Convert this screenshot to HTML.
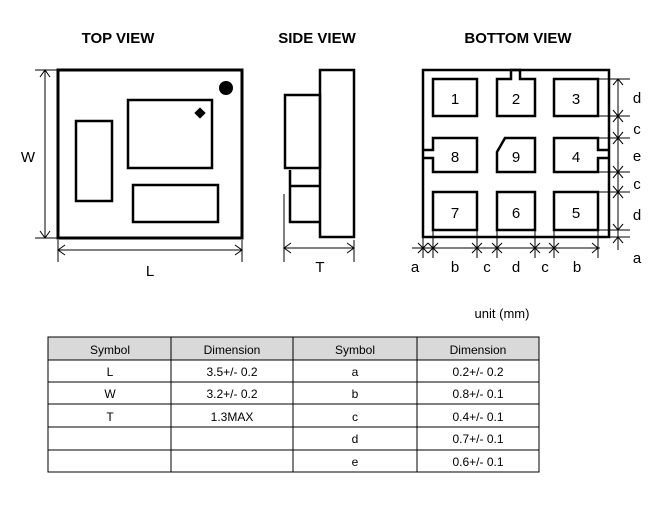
<!DOCTYPE html>
<html><head><style>body{margin:0;background:#fff}svg{display:block}</style></head><body>
<svg width="664" height="517" viewBox="0 0 664 517" xmlns="http://www.w3.org/2000/svg" font-family="Liberation Sans, sans-serif">
<g font-weight="bold" font-size="15" text-anchor="middle">
<text x="118" y="43">TOP VIEW</text><text x="317" y="43">SIDE VIEW</text><text x="518" y="43">BOTTOM VIEW</text>
</g>
<g fill="none" stroke="#000">
<rect x="58" y="70" width="184" height="168" stroke-width="3"/>
<rect x="128" y="100" width="84" height="68" stroke-width="2.5"/>
<rect x="76" y="121" width="36" height="80" stroke-width="2.5"/>
<rect x="133" y="185" width="85" height="37" stroke-width="2.5"/>
<g stroke-width="1">
<line x1="45" y1="70" x2="45" y2="238"/><line x1="35" y1="70" x2="58" y2="70"/><line x1="35" y1="238" x2="58" y2="238"/>
<polyline points="40,77 45,70 50,77"/><polyline points="40,231 45,238 50,231"/>
<line x1="58" y1="250" x2="242" y2="250"/><line x1="58" y1="240" x2="58" y2="262"/><line x1="242" y1="240" x2="242" y2="262"/>
<polyline points="65,245 58,250 65,255"/><polyline points="235,245 242,250 235,255"/>
</g>
<rect x="320" y="70" width="34" height="167" stroke-width="2.5"/>
<rect x="285" y="95" width="35" height="73" stroke-width="2.5"/>
<polyline points="290,170 290,222 320,222" stroke-width="2.5"/>
<line x1="290" y1="186" x2="320" y2="186" stroke-width="2.5"/>
<g stroke-width="1">
<line x1="284" y1="194" x2="284" y2="262"/><line x1="354" y1="240" x2="354" y2="262"/>
<line x1="284" y1="248" x2="354" y2="248"/>
<polyline points="291,243 284,248 291,253"/><polyline points="347,243 354,248 347,253"/>
</g>
<rect x="423" y="70" width="186" height="167" stroke-width="2.5"/>
<g stroke-width="2.5">
<rect x="433" y="79" width="44" height="37"/>
<path d="M497 79 H511 V70 H520 V79 H535 V116 H497 Z"/>
<rect x="554" y="79" width="44" height="37"/>
<path d="M423 150 H433 V138 H477 V172 H433 V158 H423"/>
<path d="M505 138 H535 V172 H497 V152 Z"/>
<path d="M609 150 H598 V138 H554 V172 H598 V158 H609"/>
<rect x="433" y="192" width="44" height="38"/>
<rect x="497" y="192" width="38" height="38"/>
<rect x="554" y="192" width="44" height="38"/>
</g>
<g stroke-width="1">
<line x1="618" y1="79" x2="618" y2="250"/>
<line x1="598" y1="79" x2="630" y2="79"/><line x1="598" y1="116" x2="630" y2="116"/>
<line x1="598" y1="138" x2="630" y2="138"/><line x1="598" y1="172" x2="630" y2="172"/>
<line x1="598" y1="192" x2="630" y2="192"/><line x1="598" y1="230" x2="630" y2="230"/>
<line x1="609" y1="237" x2="630" y2="237"/>
<line x1="412" y1="248" x2="600" y2="248"/>
<line x1="423" y1="237" x2="423" y2="258"/><line x1="433" y1="230" x2="433" y2="258"/>
<line x1="477" y1="230" x2="477" y2="258"/><line x1="497" y1="230" x2="497" y2="258"/>
<line x1="535" y1="230" x2="535" y2="258"/><line x1="554" y1="230" x2="554" y2="258"/>
<line x1="598" y1="230" x2="598" y2="258"/>
<path d="M418 243 L428 253 M418 253 L428 243 M428 243 L438 253 M428 253 L438 243 M472 243 L482 253 M472 253 L482 243 M492 243 L502 253 M492 253 L502 243 M530 243 L540 253 M530 253 L540 243 M549 243 L559 253 M549 253 L559 243"/>
<polyline points="592,243 598,248 592,253"/>
<path d="M613 85 L618 79 L623 85 M613 110 L623 122 M613 122 L623 110 M613 132 L623 144 M613 144 L623 132 M613 166 L623 178 M613 178 L623 166 M613 186 L623 198 M613 198 L623 186 M613 224 L618 230 L623 224 M613 243 L618 237 L623 243"/>
</g>
</g>
<circle cx="226" cy="88" r="7"/>
<rect x="196" y="109" width="8" height="8" transform="rotate(45 200 113)"/>
<g font-size="15" text-anchor="middle">
<text x="28" y="162">W</text><text x="150" y="276">L</text><text x="320" y="272">T</text>
<text x="455" y="104">1</text><text x="516" y="104">2</text><text x="576" y="104">3</text>
<text x="455" y="162">8</text><text x="516" y="162">9</text><text x="576" y="162">4</text>
<text x="455" y="218">7</text><text x="516" y="218">6</text><text x="576" y="218">5</text>
<text x="637" y="103">d</text><text x="637" y="134">c</text><text x="637" y="161">e</text>
<text x="637" y="189">c</text><text x="637" y="220">d</text><text x="637" y="263">a</text>
<text x="415" y="272">a</text><text x="455" y="272">b</text><text x="487" y="272">c</text>
<text x="516" y="272">d</text><text x="545" y="272">c</text><text x="577" y="272">b</text>
</g>
<text x="502" y="318" font-size="13" text-anchor="middle">unit (mm)</text>
<rect x="48" y="337" width="491" height="23" fill="#d9d9d9"/>
<g stroke="#000" stroke-width="1" fill="none">
<rect x="48" y="337" width="491" height="135"/>
<line x1="48" y1="360" x2="539" y2="360"/><line x1="48" y1="382" x2="539" y2="382"/>
<line x1="48" y1="404" x2="539" y2="404"/><line x1="48" y1="427" x2="539" y2="427"/>
<line x1="48" y1="450" x2="539" y2="450"/>
<line x1="171" y1="337" x2="171" y2="472"/><line x1="293" y1="337" x2="293" y2="472"/><line x1="417" y1="337" x2="417" y2="472"/>
</g>
<g font-size="12" text-anchor="middle">
<text x="110" y="354">Symbol</text><text x="232" y="354">Dimension</text><text x="355" y="354">Symbol</text><text x="478" y="354">Dimension</text>
<text x="110" y="376">L</text><text x="232" y="376">3.5+/- 0.2</text><text x="355" y="376">a</text><text x="478" y="376">0.2+/- 0.2</text>
<text x="110" y="398">W</text><text x="232" y="398">3.2+/- 0.2</text><text x="355" y="398">b</text><text x="478" y="398">0.8+/- 0.1</text>
<text x="110" y="421">T</text><text x="232" y="421">1.3MAX</text><text x="355" y="421">c</text><text x="478" y="421">0.4+/- 0.1</text>
<text x="355" y="443">d</text><text x="478" y="443">0.7+/- 0.1</text>
<text x="355" y="466">e</text><text x="478" y="466">0.6+/- 0.1</text>
</g>
</svg>
</body></html>
